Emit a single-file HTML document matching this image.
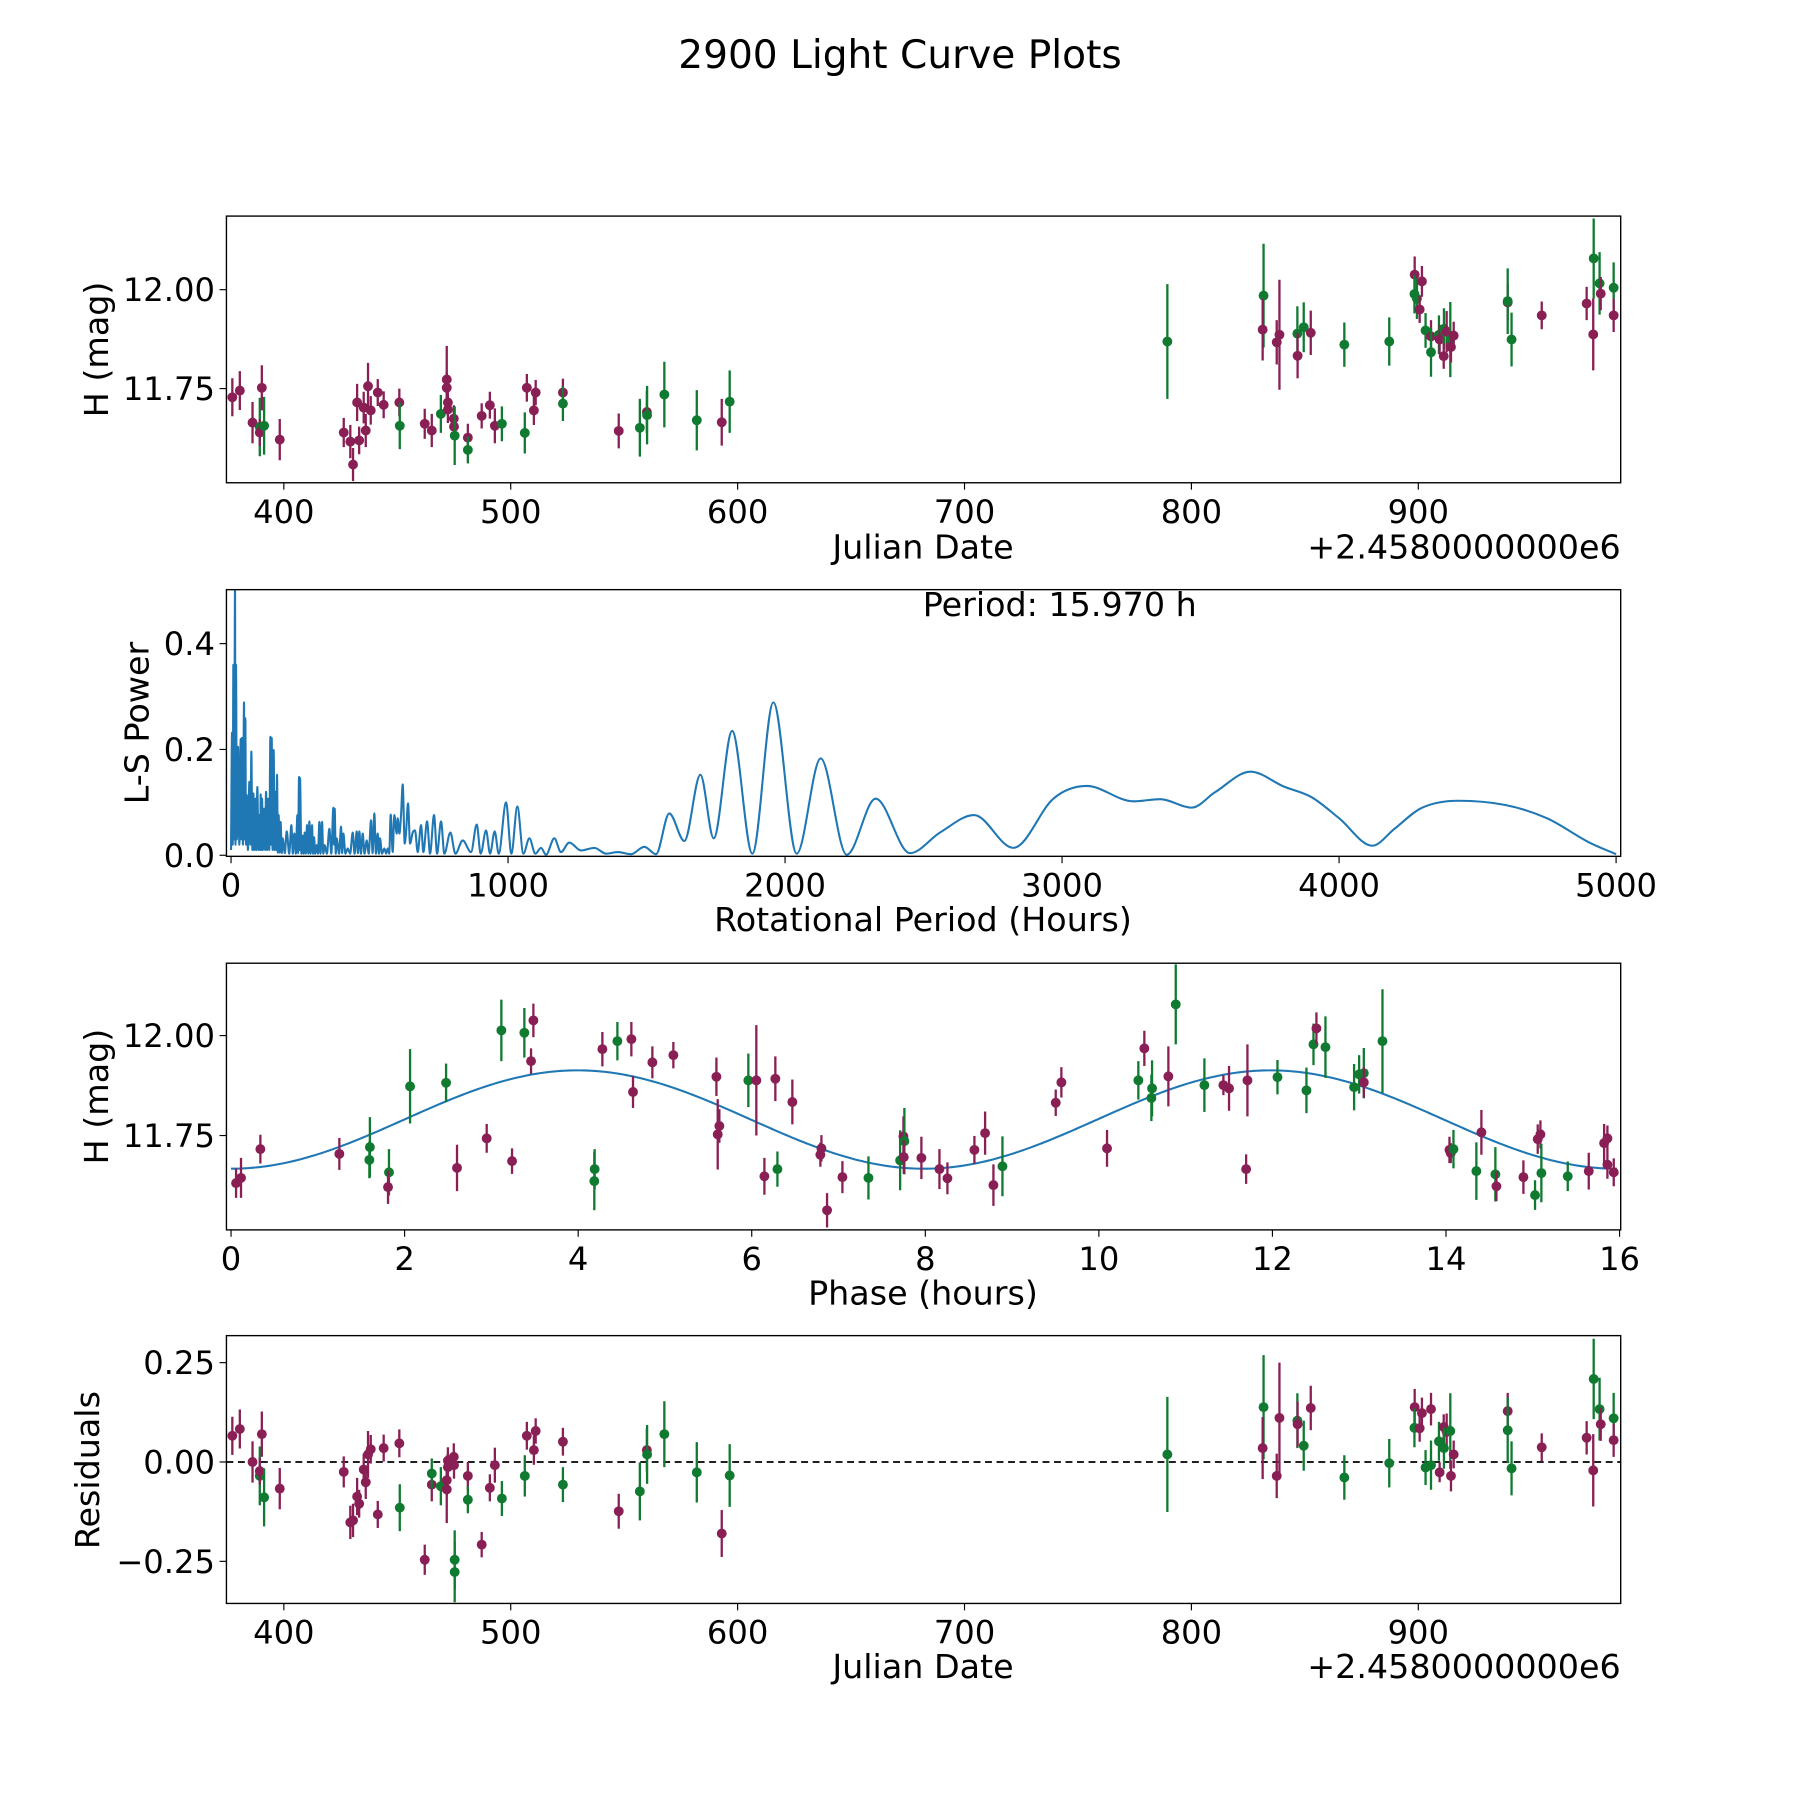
<!DOCTYPE html>
<html><head><meta charset="utf-8"><title>2900 Light Curve Plots</title>
<style>html,body{margin:0;padding:0;background:#fff}svg{display:block}text{font-family:"DejaVu Sans","Liberation Sans",sans-serif;fill:#000}</style>
</head><body>
<svg id="fig" width="1800" height="1800" viewBox="0 0 1566 1566" xmlns="http://www.w3.org/2000/svg">
<text x="783" y="59" font-size="34" text-anchor="middle">2900 Light Curve Plots</text>
</svg>
<script>
// ---------- Panel 1: light curve (JD offset, mag, err, filter) ----------
const lcJD=[377.3,380.6,386.2,389.4,389.4,390.3,391.3,398.2,426.4,429.3,430.5,432.3,433.2,435.2,436.1,437.1,438.3,441.4,444.0,450.9,451.1,462.1,465.2,469.2,471.8,471.8,472.3,472.3,474.9,475.0,475.3,481.1,481.1,487.2,490.8,493.0,496.1,506.2,507.1,510.2,511.0,523.0,523.0,547.6,556.9,560.0,560.1,567.7,582.0,593.0,596.5,789.4,831.8,831.4,837.6,838.8,846.7,846.8,849.5,852.6,867.4,887.2,898.4,898.3,899.4,901.6,900.6,903.2,905.6,905.6,909.1,909.4,911.3,912.5,911.2,914.1,914.4,915.6,939.4,939.4,941.1,954.4,974.2,977.3,977.1,979.9,980.4,986.1,986.1];
const lcMag=[11.728,11.745,11.664,11.653,11.639,11.752,11.656,11.621,11.639,11.616,11.558,11.715,11.619,11.702,11.644,11.756,11.695,11.74,11.709,11.715,11.656,11.661,11.644,11.686,11.773,11.752,11.715,11.697,11.674,11.654,11.631,11.626,11.595,11.681,11.708,11.656,11.661,11.638,11.752,11.695,11.74,11.74,11.712,11.643,11.651,11.691,11.683,11.735,11.67,11.665,11.717,11.869,11.985,11.899,11.867,11.886,11.889,11.833,11.905,11.891,11.861,11.869,12.038,11.989,11.977,12.021,11.95,11.897,11.882,11.842,11.886,11.874,11.901,11.894,11.832,11.874,11.855,11.884,11.968,11.971,11.874,11.935,11.965,12.079,11.887,12.016,11.99,12.005,11.935];
const lcErr=[.048,.049,.052,.074,.034,.057,.073,.052,.037,.042,.042,.047,.035,.04,.042,.059,.036,.034,.034,.035,.059,.038,.042,.048,.085,.038,.034,.034,.034,.034,.074,.035,.034,.032,.034,.044,.044,.052,.035,.037,.032,.035,.044,.044,.073,.054,.074,.083,.076,.059,.079,.145,.131,.078,.056,.139,.069,.057,.063,.056,.056,.061,.046,.049,.051,.039,.034,.044,.041,.062,.049,.037,.052,.052,.032,.095,.039,.035,.046,.083,.068,.035,.042,.101,.091,.079,.042,.064,.042];
const lcBand=["M","M","M","G","M","M","G","M","M","M","M","M","M","M","M","M","M","M","M","M","G","M","M","G","M","M","M","M","M","M","G","M","G","M","M","M","G","G","M","M","M","M","G","M","G","M","G","G","G","M","G","G","G","M","M","M","G","M","G","M","G","G","M","G","G","M","M","G","M","G","G","M","G","M","M","G","M","M","M","G","G","M","M","G","M","G","M","G","M"];

// ---------- Panel 2: periodogram vertices ----------
const lsPeriod=[0,3.6,6,8.4,11,14.4,16,18,21,25.3,30,34.9,37,39.7,43,46.9,49,51.7,54,56.6,61,66.2,70,73.4,77,80.6,84,87.8,91,95,99,102.3,105,107.1,110,111.9,115,119.1,123,126.4,130,133.6,138,142,144,146.8,150,154,157,160,163,166,169,172,175,179,183,186.5,194,201,210,217.8,223,228.6,234,239.5,242,245.5,247,249,254,258.7,262,266,270,274.4,279,282.8,287,292.4,296,299.6,304,309.3,314,318.9,323,328.5,333,338.1,346,355,362,369.4,372,374.2,378,381.5,390,397.1,401,405.5,413,421.2,430,439.2,446,453.7,458,463.3,469,475.3,482,489.8,497,505.4,511,517.4,523,529.5,534,537.9,545,553.5,560,565.6,571,576.4,583.6,589.6,598,601.7,607.7,613.7,619.7,627,631.8,639,646.2,655.8,664.2,673.9,685.9,694.3,707.6,718.4,732.8,743.7,758.1,770.1,791.8,809.8,836.3,866.4,886.9,901.3,920.6,935,951.8,966.3,992.8,1012,1033.6,1055.3,1077,1098.6,1119,1137,1167,1191,1221,1263.5,1311.6,1353.8,1395.8,1444,1492,1534,1582,1636.5,1694.3,1742.4,1809,1882,1957.8,2042,2128.7,2222.6,2327,2451,2559.5,2682,2824,2968.6,3089,3257,3354,3468,3552,3680,3800,3900,4000,4120,4200,4300,4430,4600,4750,4900,5000];
const lsPower=[0.01,0.232,0.02,0.36,0.03,0.505,0.02,0.36,0.03,0.205,0.02,0.22,0.03,0.222,0.02,0.289,0.03,0.259,0.02,0.114,0.01,0.139,0.02,0.196,0.01,0.117,0.01,0.107,0.01,0.129,0.01,0.076,0.01,0.115,0.01,0.107,0.01,0.088,0.01,0.12,0.01,0.107,0.01,0.224,0.02,0.222,0.01,0.199,0.01,0.12,0.01,0.152,0.005,0.076,0.005,0.063,0.004,0.032,0.004,0.045,0.003,0.057,0.003,0.041,0.003,0.076,0.004,0.148,0.01,0.146,0.003,0.037,0.003,0.043,0.003,0.057,0.003,0.064,0.003,0.057,0.003,0.034,0.003,0.019,0.003,0.063,0.003,0.063,0.003,0.019,0.003,0.05,0.003,0.09,0.02,0.088,0.003,0.032,0.003,0.054,0.004,0.041,0.003,0.013,0.003,0.043,0.003,0.045,0.004,0.045,0.003,0.041,0.003,0.028,0.003,0.066,0.004,0.079,0.003,0.041,0.003,0.032,0.003,0.013,0.003,0.013,0.003,0.077,0.006,0.076,0.041,0.07,0.041,0.076,0.134,0.022,0.043,0.098,0.022,0.043,0.047,0.006,0.057,0.006,0.064,0.003,0.076,0.003,0.064,0.003,0.043,0.003,0.028,0.006,0.058,0.003,0.047,0.003,0.045,0.003,0.1,0.003,0.092,0.003,0.032,0.003,0.014,0.001,0.032,0.006,0.024,0.009,0.014,0.003,0.006,0.002,0.016,0.002,0.079,0.027,0.152,0.032,0.235,0.003,0.289,0.003,0.183,0.001,0.107,0.004,0.043,0.076,0.014,0.107,0.131,0.102,0.106,0.09,0.119,0.158,0.13,0.11,0.07,0.018,0.05,0.09,0.103,0.095,0.07,0.025,0.002];
const bestPeriodLabel="Period: 15.970 h";

// ---------- Panel 3: phased light curve ----------
const phX=[0.058,0.115,0.338,1.248,1.60,1.594,1.82,1.809,2.063,2.478,2.604,2.946,3.115,3.238,3.38,3.484,3.457,4.19,4.186,4.279,4.452,4.613,4.632,4.855,5.097,5.593,5.608,5.627,5.961,6.053,6.272,6.468,6.146,6.296,6.803,6.791,6.868,7.045,7.345,7.71,7.748,7.759,7.752,7.955,8.163,8.255,8.566,8.689,8.785,8.889,9.503,9.568,10.094,10.455,10.524,10.613,10.605,10.886,10.801,11.216,11.435,11.5,11.712,11.697,12.058,12.392,12.473,12.507,12.611,12.941,12.999,13.053,13.053,13.268,14.04,14.055,14.086,14.408,14.35,14.569,14.581,14.892,15.026,15.057,15.088,15.099,15.403,15.645,15.822,15.86,15.86,15.933];
const phMag=[11.631,11.644,11.716,11.704,11.721,11.689,11.658,11.621,11.873,11.882,11.669,11.743,12.013,11.686,12.007,12.038,11.936,11.666,11.636,11.966,11.986,11.991,11.859,11.933,11.951,11.897,11.753,11.774,11.888,11.888,11.892,11.834,11.648,11.666,11.718,11.702,11.563,11.646,11.644,11.688,11.748,11.736,11.696,11.694,11.666,11.643,11.714,11.756,11.626,11.673,11.832,11.883,11.718,11.888,11.968,11.868,11.844,12.078,11.898,11.876,11.876,11.868,11.888,11.666,11.896,11.863,11.978,12.018,11.971,11.871,11.903,11.906,11.883,11.986,11.714,11.706,11.716,11.758,11.661,11.653,11.623,11.646,11.601,11.741,11.753,11.656,11.648,11.661,11.731,11.743,11.677,11.658];
const phErr=[.037,.05,.036,.04,.075,.046,.058,.042,.093,.048,.058,.036,.077,.032,.062,.042,.032,.05,.073,.043,.048,.043,.04,.04,.033,.048,.088,.042,.067,.138,.056,.056,.046,.044,.033,.03,.043,.04,.054,.075,.05,.083,.042,.053,.05,.04,.035,.054,.052,.075,.033,.038,.046,.048,.044,.07,.058,.1,.075,.067,.025,.056,.09,.037,.043,.057,.052,.04,.077,.058,.048,.063,.038,.13,.033,.025,.048,.056,.072,.068,.037,.042,.037,.037,.035,.073,.037,.046,.048,.032,.035,.035];
const phBand=["M","M","M","M","G","G","G","M","G","G","M","M","G","M","G","M","M","G","G","M","G","M","M","M","M","M","M","M","G","M","M","M","M","G","M","M","M","M","G","G","M","G","M","M","M","M","M","M","M","G","M","M","M","G","M","G","G","G","M","G","M","M","M","M","G","G","G","M","G","G","G","G","M","G","M","M","G","M","G","G","M","M","G","M","M","G","G","M","M","M","M","M"];
// model: mean, semi-amplitude, period (h), harmonics
const modelParams=[11.79,0.123,15.97,2];

// ---------- Panel 4: residuals ----------
const resJD=[377.3,380.6,386.2,389.4,389.4,390.3,391.3,398.2,426.4,429.3,430.5,432.3,433.2,435.2,436.1,437.1,438.3,441.4,444.0,450.9,451.1,462.1,465.2,465.2,469.2,471.8,471.8,472.3,472.3,474.9,475.0,475.3,475.3,481.1,481.1,487.2,490.8,493.0,496.1,506.2,507.1,510.2,511.0,523.0,523.0,547.6,556.9,560.0,560.1,567.7,582.0,593.0,596.5,789.4,831.8,831.4,837.6,838.8,846.7,846.8,849.5,852.6,867.4,887.2,898.4,898.3,901.6,900.6,903.2,905.6,905.6,909.1,909.4,911.2,912.5,911.3,914.1,914.4,915.6,939.4,939.4,941.1,954.4,974.2,977.3,977.1,979.9,980.4,986.1,986.1];
const resVal=[.066,.083,0,-.035,-.023,.07,-.089,-.067,-.025,-.152,-.147,-.087,-.105,-.019,-.051,.019,.032,-.132,.035,.047,-.115,-.246,-.057,-.029,-.061,-.069,-.046,-.013,.003,.013,-.008,-.246,-.277,-.035,-.095,-.208,-.065,-.008,-.092,-.035,.066,.03,.078,.051,-.057,-.124,-.074,.03,.019,.07,-.026,-.18,-.034,.019,.138,.035,-.035,.111,.104,.095,.041,.136,-.039,-.003,.138,.086,.123,.085,-.014,.133,-.008,.052,-.026,.088,.076,.035,.078,-.035,.019,.128,.08,-.016,.037,.061,.209,-.021,.133,.095,.11,.055];
const resErr=[.048,.049,.052,.074,.034,.057,.073,.052,.039,.042,.042,.047,.035,.04,.042,.059,.036,.034,.034,.035,.059,.038,.042,.038,.048,.085,.038,.034,.034,.034,.034,.074,.076,.035,.034,.032,.034,.044,.044,.052,.035,.037,.032,.035,.044,.044,.073,.054,.074,.083,.076,.059,.079,.145,.131,.078,.056,.139,.069,.057,.063,.056,.056,.061,.046,.049,.039,.034,.044,.041,.062,.049,.025,.032,.046,.052,.095,.039,.035,.046,.083,.068,.035,.042,.101,.091,.079,.042,.064,.042];
const resBand=["M","M","M","G","M","M","G","M","M","M","M","M","M","M","M","M","M","M","M","M","G","M","M","G","G","M","M","M","M","M","M","G","G","M","G","M","M","M","G","G","M","M","M","M","G","M","G","M","G","G","G","M","G","G","G","M","M","M","G","M","G","M","G","G","M","G","M","M","G","M","G","G","M","M","M","G","G","M","M","M","G","G","M","M","G","M","G","M","G","M"];

const NS="http://www.w3.org/2000/svg";
const svg=document.getElementById('fig');
const COL={M:"#891f54",G:"#0f7a30"};
const TICK=28, LAB=29;
function mk(tag,attrs,parent){const e=document.createElementNS(NS,tag);for(const k in attrs)e.setAttribute(k,attrs[k]);(parent||svg).appendChild(e);return e;}
function scale(d0,d1,p0,p1){return v=>p0+(v-d0)/(d1-d0)*(p1-p0);}

function axes(name,box,xd,yd,xt,yt,xfmt,yfmt){
  const g=mk('g',{});
  
  
  const sx=scale(xd[0],xd[1],box.l,box.r), sy=scale(yd[0],yd[1],box.b,box.t);
  xt.forEach(v=>{const x=sx(v);
    const t=mk('line',{x1:x,x2:x,y1:box.b,y2:box.b+6,stroke:'#000','stroke-width':1},g);
    
    
    const tx=mk('text',{x:x,y:box.b+35,'font-size':TICK,'text-anchor':'middle'},g);tx.textContent=xfmt(v);
    
    });
  yt.forEach(v=>{const y=sy(v);
    const t=mk('line',{x1:box.l-6,x2:box.l,y1:y,y2:y,stroke:'#000','stroke-width':1},g);
    
    
    const tx=mk('text',{x:box.l-10,y:y+10,'font-size':TICK,'text-anchor':'end'},g);tx.textContent=yfmt(v);
    
    });
  const clip=mk('clipPath',{id:name+'-clip'},g);mk('rect',{x:box.l,y:box.t,width:box.r-box.l,height:box.b-box.t},clip);
  const plot=mk('g',{'clip-path':'url(#'+name+'-clip)'},g);
  
  
  return {g,plot,sx,sy,box};
}
function frame(a){const f=mk('rect',{x:a.box.l,y:a.box.t,width:a.box.r-a.box.l,height:a.box.b-a.box.t,fill:'none',stroke:'#000','stroke-width':1.2},a.g);
  
  }
function label(txt,x,y,rot,name){const t=mk('text',{x:x,y:y,'font-size':LAB,'text-anchor':'middle'});
  if(rot)t.setAttribute('transform','rotate(-90 '+x+' '+y+')');t.textContent=txt;
  
  return t;}
function errPoints(a,xs,ys,es,bs,name){
  xs.forEach((xv,i)=>{const x=a.sx(xv),y=a.sy(ys[i]),c=COL[bs[i]];
    const p=mk('g',{},a.plot);
    
    
    mk('line',{x1:x,x2:x,y1:a.sy(ys[i]-es[i]),y2:a.sy(ys[i]+es[i]),stroke:c,'stroke-width':2},p);
    mk('circle',{cx:x,cy:y,r:4.3,fill:c},p);});
}
// smooth path through vertices: horizontal tangents at local extrema
function smoothPath(P){
  const n=P.length, m=new Array(n).fill(0);
  for(let i=1;i<n-1;i++){
    const d1=P[i][1]-P[i-1][1], d2=P[i+1][1]-P[i][1];
    if(d1*d2<=0) m[i]=0; else m[i]=(P[i+1][1]-P[i-1][1])/(P[i+1][0]-P[i-1][0]);
  }
  m[0]=(P[1][1]-P[0][1])/(P[1][0]-P[0][0]); m[n-1]=(P[n-1][1]-P[n-2][1])/(P[n-1][0]-P[n-2][0]);
  let d='M'+P[0][0].toFixed(2)+','+P[0][1].toFixed(2);
  for(let i=0;i<n-1;i++){const h=(P[i+1][0]-P[i][0])/3;
    d+=' C'+(P[i][0]+h).toFixed(2)+','+(P[i][1]+m[i]*h).toFixed(2)+' '+(P[i+1][0]-h).toFixed(2)+','+(P[i+1][1]-m[i+1]*h).toFixed(2)+' '+P[i+1][0].toFixed(2)+','+P[i+1][1].toFixed(2);}
  return d;
}
const fmt2=v=>v.toFixed(2), fmt0=v=>String(v), fmt1=v=>v.toFixed(1);
const fmtRes=v=>(v<0?'\u2212':'')+Math.abs(v).toFixed(2);

// Panel 1
const a1=axes('light-curve-axes',{l:197,r:1410,t:188,b:420},[374.7,989.2],[11.512,12.186],[400,500,600,700,800,900],[11.75,12.00],fmt0,fmt2);
errPoints(a1,lcJD,lcMag,lcErr,lcBand,'lc-point');frame(a1);
label('Julian Date',803,486,false,'x-axis-title-jd');
const off1=mk('text',{x:1410,y:486,'font-size':LAB,'text-anchor':'end'});off1.textContent='+2.4580000000e6';


label('H (mag)',94,304,true,'y-axis-title-mag');

// Panel 2
const a2=axes('periodogram-axes',{l:197,r:1410,t:513,b:745},[-16.6,5016.6],[-0.002,0.502],[0,1000,2000,3000,4000,5000],[0,0.2,0.4],fmt0,fmt1);
const pl=mk('path',{d:smoothPath(lsPeriod.map((p,i)=>[a2.sx(p),a2.sy(lsPower[i])])),fill:'none',stroke:'#1f77b4','stroke-width':1.8,'stroke-linejoin':'round'},a2.plot);


frame(a2);
const pt=mk('text',{x:922,y:536,'font-size':LAB,'text-anchor':'middle'});pt.textContent=bestPeriodLabel;


label('Rotational Period (Hours)',803,810,false,'x-axis-title-period');
label('L-S Power',129,629,true,'y-axis-title-power');

// Panel 3
const a3=axes('phase-axes',{l:197,r:1410,t:838,b:1070},[-0.053,16.013],[11.514,12.181],[0,2,4,6,8,10,12,14,16],[11.75,12.00],fmt0,fmt2);
const mpts=[];for(let k=0;k<=400;k++){const ph=modelParams[2]*k/400;
  const m=modelParams[0]-modelParams[1]*Math.cos(2*Math.PI*modelParams[3]*ph/modelParams[2]);
  mpts.push(a3.sx(ph).toFixed(2)+','+a3.sy(m).toFixed(2));}
const ml=mk('polyline',{points:mpts.join(' '),fill:'none',stroke:'#1f77b4','stroke-width':1.8},a3.plot);


errPoints(a3,phX,phMag,phErr,phBand,'phase-point');frame(a3);
label('Phase (hours)',803,1135,false,'x-axis-title-phase');
label('H (mag)',94,954,true,'y-axis-title-mag-phase');

// Panel 4
const a4=axes('residuals-axes',{l:197,r:1410,t:1162,b:1395},[374.7,989.2],[-0.356,0.318],[400,500,600,700,800,900],[-0.25,0,0.25],fmt0,fmtRes);
const zl=mk('line',{x1:197,x2:1410,y1:a4.sy(0),y2:a4.sy(0),stroke:'#000','stroke-width':1.5,'stroke-dasharray':'6,4'},a4.plot);


errPoints(a4,resJD,resVal,resErr,resBand,'residual-point');frame(a4);
label('Julian Date',803,1460,false,'x-axis-title-jd-res');
const off4=mk('text',{x:1410,y:1460,'font-size':LAB,'text-anchor':'end'});off4.textContent='+2.4580000000e6';


label('Residuals',86,1279,true,'y-axis-title-residuals');
</script>
</body></html>
